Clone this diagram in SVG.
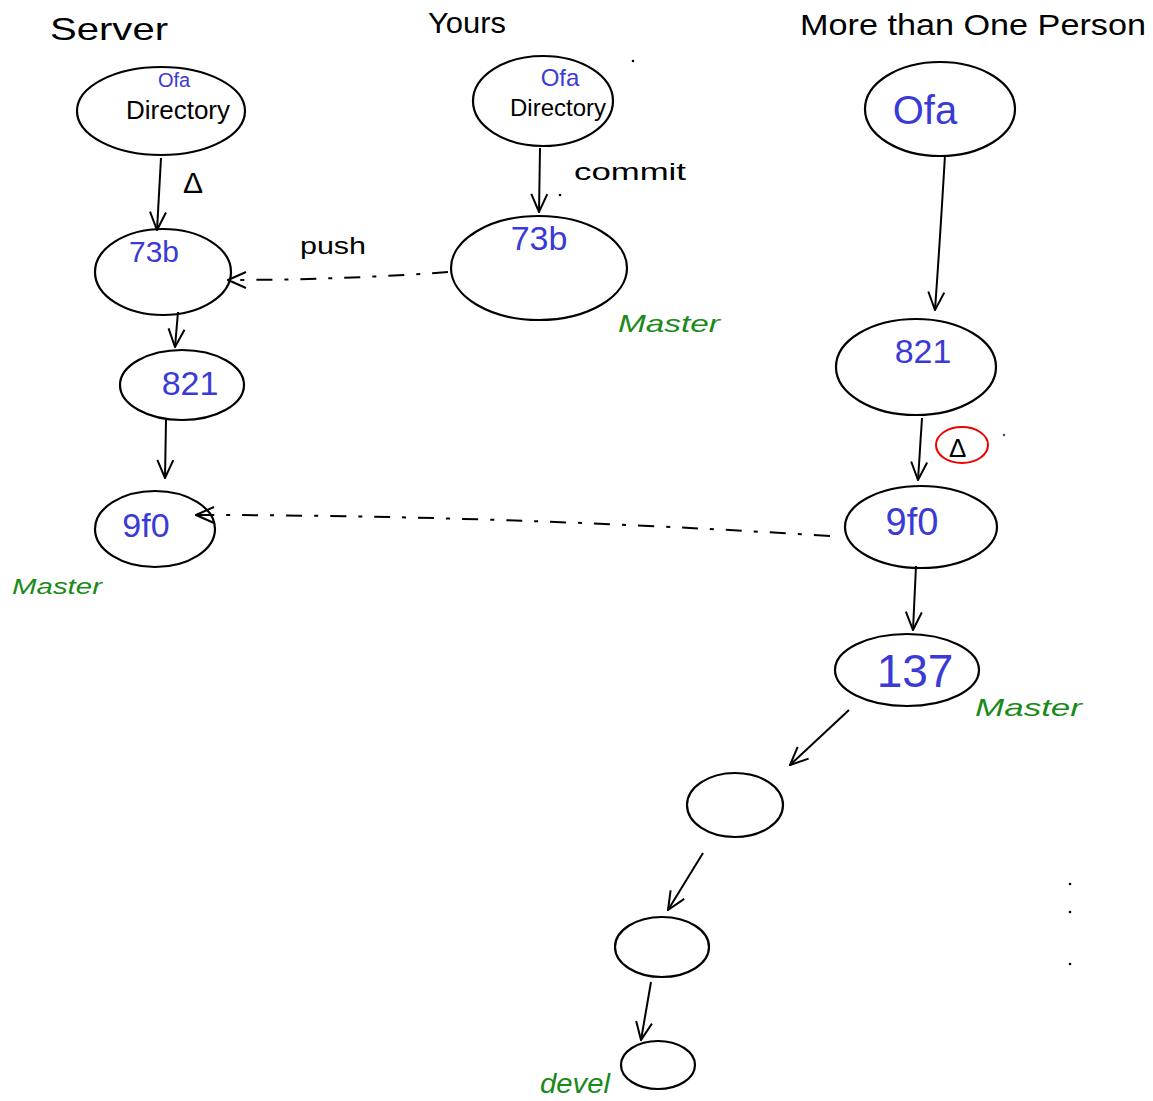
<svg xmlns="http://www.w3.org/2000/svg" width="1153" height="1101" viewBox="0 0 1153 1101">
<style>
.n{fill:none;stroke:#000;stroke-width:2.2}
.c{fill:none;stroke:#000;stroke-width:2}
.d{fill:none;stroke:#000;stroke-width:2;stroke-dasharray:16 12 4 12}
.t{font-family:"Liberation Sans","DejaVu Sans",sans-serif;fill:#000}
.b{font-family:"Liberation Sans","DejaVu Sans",sans-serif;fill:#3a3ad6}
.g{font-family:"Liberation Sans","DejaVu Sans",sans-serif;fill:#1b8a1b;font-style:italic}
</style>
<defs>
<marker id="ah" viewBox="0 0 20 20" refX="19" refY="10" markerWidth="20" markerHeight="20" markerUnits="userSpaceOnUse" orient="auto">
<path d="M1,2 L19,10 L1,18" fill="none" stroke="#000" stroke-width="2"/>
</marker>
</defs>
<rect width="1153" height="1101" fill="#fff"/>
<g id="headers">
<text class="t" x="50" y="40" font-size="32" textLength="118" lengthAdjust="spacingAndGlyphs">Server</text>
<text class="t" x="428" y="33" font-size="30" textLength="78" lengthAdjust="spacingAndGlyphs">Yours</text>
<text class="t" x="800" y="35" font-size="30" textLength="346" lengthAdjust="spacingAndGlyphs">More than One Person</text>
</g>
<g id="connectors">
<path class="c" d="M161,158 L157,230" marker-end="url(#ah)"/>
<path class="c" d="M540,148 L539,212" marker-end="url(#ah)"/>
<path class="d" d="M448,272 Q340,280 228,280" marker-end="url(#ah)"/>
<path class="c" d="M178,312 L175,347" marker-end="url(#ah)"/>
<path class="c" d="M166,420 L165,478" marker-end="url(#ah)"/>
<path class="d" d="M830,536 Q500,515 196,515" marker-end="url(#ah)"/>
<path class="c" d="M945,155 Q940,240 935,310" marker-end="url(#ah)"/>
<path class="c" d="M922,418 L918,480" marker-end="url(#ah)"/>
<path class="c" d="M916,566 L913,630" marker-end="url(#ah)"/>
<path class="c" d="M849,710 L790,765" marker-end="url(#ah)"/>
<path class="c" d="M703,853 L668,910" marker-end="url(#ah)"/>
<path class="c" d="M651,982 L641,1040" marker-end="url(#ah)"/>
<text class="t" x="183" y="193" font-size="30">Δ</text>
<text class="t" x="574" y="180" font-size="24" textLength="112" lengthAdjust="spacingAndGlyphs">commit</text>
<text class="t" x="300" y="254" font-size="24" textLength="66" lengthAdjust="spacingAndGlyphs">push</text>
<ellipse cx="962" cy="445" rx="26" ry="18" fill="none" stroke="#e00" stroke-width="2"/>
<text class="t" x="949" y="457" font-size="26">Δ</text>
</g>
<g id="server-ofa">
<ellipse class="n" cx="161" cy="111" rx="84" ry="44"/>
<text class="b" x="174" y="87" font-size="20" text-anchor="middle">Ofa</text>
<text class="t" x="178" y="119" font-size="26" text-anchor="middle">Directory</text>
</g>
<g id="server-73b">
<ellipse class="n" cx="163" cy="272" rx="68" ry="43"/>
<text class="b" x="154" y="262" font-size="30" text-anchor="middle">73b</text>
</g>
<g id="server-821">
<ellipse class="n" cx="182" cy="385" rx="62" ry="35"/>
<text class="b" x="190" y="395" font-size="34" text-anchor="middle">821</text>
</g>
<g id="server-9f0">
<ellipse class="n" cx="155" cy="529" rx="60" ry="38"/>
<text class="b" x="146" y="537" font-size="34" text-anchor="middle">9f0</text>
</g>
<g id="master-server"><text class="g" x="12" y="594" font-size="22" textLength="90" lengthAdjust="spacingAndGlyphs">Master</text></g>
<g id="yours-ofa">
<ellipse class="n" cx="543" cy="101" rx="70" ry="45"/>
<text class="b" x="560" y="86" font-size="24" text-anchor="middle">Ofa</text>
<text class="t" x="558" y="116" font-size="24" text-anchor="middle">Directory</text>
</g>
<g id="yours-73b">
<ellipse class="n" cx="539" cy="268" rx="88" ry="52"/>
<text class="b" x="539" y="250" font-size="34" text-anchor="middle">73b</text>
</g>
<g id="master-yours"><text class="g" x="618" y="332" font-size="24" textLength="102" lengthAdjust="spacingAndGlyphs">Master</text></g>
<g id="mtop-ofa">
<ellipse class="n" cx="940" cy="109" rx="75" ry="47"/>
<text class="b" x="925" y="124" font-size="40" text-anchor="middle">Ofa</text>
</g>
<g id="mtop-821">
<ellipse class="n" cx="916" cy="367" rx="80" ry="48"/>
<text class="b" x="923" y="363" font-size="34" text-anchor="middle">821</text>
</g>
<g id="mtop-9f0">
<ellipse class="n" cx="921" cy="527" rx="76" ry="41"/>
<text class="b" x="912" y="535" font-size="38" text-anchor="middle">9f0</text>
</g>
<g id="mtop-137">
<ellipse class="n" cx="907" cy="670" rx="72" ry="36"/>
<text class="b" x="915" y="687" font-size="46" text-anchor="middle">137</text>
</g>
<g id="master-mtop"><text class="g" x="975" y="716" font-size="24" textLength="107" lengthAdjust="spacingAndGlyphs">Master</text></g>
<g id="blank1"><ellipse class="n" cx="735" cy="805" rx="48" ry="32"/></g>
<g id="blank2"><ellipse class="n" cx="662" cy="947" rx="47" ry="30"/></g>
<g id="blank3"><ellipse class="n" cx="658" cy="1065" rx="37" ry="24"/></g>
<g id="devel"><text class="g" x="540" y="1093" font-size="28" textLength="70" lengthAdjust="spacingAndGlyphs">devel</text></g>
<g id="dots" fill="#000">
<circle cx="633" cy="61" r="1.3"/>
<circle cx="560" cy="195" r="1.3"/>
<circle cx="1004" cy="435" r="1.2" fill="#33c"/>
<circle cx="1070" cy="884" r="1.3"/>
<circle cx="1070" cy="912" r="1.3"/>
<circle cx="1070" cy="964" r="1.3"/>
</g>
</svg>
